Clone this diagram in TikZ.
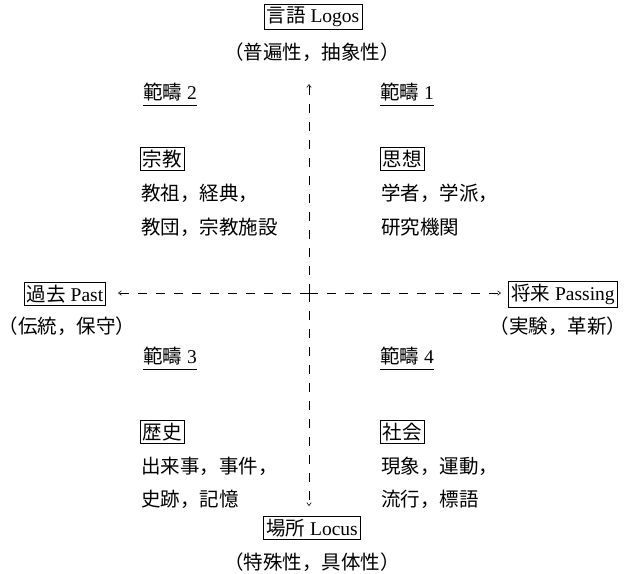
\documentclass[tikz,border=0pt]{standalone}
\usepackage{fontspec}
\setmainfont{Liberation Serif}
\newfontfamily\cjk{Noto Sans CJK JP}
\usetikzlibrary{arrows.meta}
\newcommand{\J}[1]{{\cjk #1}}
\newcommand{\LP}{\kern-0.4em{\cjk （}}
\newcommand{\RP}{{\cjk ）}\kern-0.4em}
\begin{document}
\begin{tikzpicture}[x=1pt,y=-1pt,
  every node/.style={font=\fontsize{19.5}{21}\selectfont},
  boxed/.style={draw,line width=0.6pt,inner sep=2.5pt},
  plain/.style={inner sep=0pt},
  axis/.style={line width=0.6pt,dash pattern=on 9pt off 9pt,-{Straight Barb[length=3pt,width=4.5pt]}},
  uline/.style={line width=0.6pt}]
\useasboundingbox (0,0) rectangle (625,574);
\coordinate (c) at (309,293);
\coordinate (up) at (309,84);
\coordinate (dn) at (309,506);
\coordinate (lf) at (118,293);
\coordinate (rt) at (501,293);
\draw[axis] (c) -- (up);
\draw[axis] (c) -- (dn);
\draw[axis] (c) -- (lf);
\draw[axis] (c) -- (rt);

% poles
\node[boxed] (logos) at (313,17) {\J{言語} Logos};
\node[plain] (logosp) at (312,52) {\LP\J{普遍性，抽象性}\RP};
\node[boxed] (locus) at (312,528) {\J{場所} Locus};
\node[plain] (locusp) at (312,562) {\LP\J{特殊性，具体性}\RP};
\node[boxed] (past) at (65,294) {\J{過去} Past};
\node[plain] (pastp) at (67,326) {\LP\J{伝統，保守}\RP};
\node[boxed] (pass) at (563,294) {\J{将来} Passing};
\node[plain] (passp) at (558,326) {\LP\J{実験，革新}\RP};

% categories
\node[plain,anchor=west] (k2) at (143,92) {\J{範疇} 2};
\node[plain,anchor=west] (k1) at (380,92) {\J{範疇} 1};
\node[plain,anchor=west] (k3) at (143,356) {\J{範疇} 3};
\node[plain,anchor=west] (k4) at (380,356) {\J{範疇} 4};
\foreach \k in {k1,k2,k3,k4}
  \draw[uline] ([yshift=-4pt]\k.south west) -- ([yshift=-4pt]\k.south east);

% quadrant 2
\node[boxed,anchor=west] (rel) at (140,159) {\J{宗教}};
\node[plain,anchor=west] (rel1) at (141,193) {\J{教祖，経典，}};
\node[plain,anchor=west] (rel2) at (141,227) {\J{教団，宗教施設}};
% quadrant 1
\node[boxed,anchor=west] (tho) at (380,159) {\J{思想}};
\node[plain,anchor=west] (tho1) at (381,193) {\J{学者，学派，}};
\node[plain,anchor=west] (tho2) at (381,227) {\J{研究機関}};
% quadrant 3
\node[boxed,anchor=west] (his) at (140,432) {\J{歴史}};
\node[plain,anchor=west] (his1) at (141,466) {\J{出来事，事件，}};
\node[plain,anchor=west] (his2) at (141,499) {\J{史跡，記憶}};
% quadrant 4
\node[boxed,anchor=west] (soc) at (380,432) {\J{社会}};
\node[plain,anchor=west] (soc1) at (381,466) {\J{現象，運動，}};
\node[plain,anchor=west] (soc2) at (381,499) {\J{流行，標語}};
\end{tikzpicture}
\end{document}
